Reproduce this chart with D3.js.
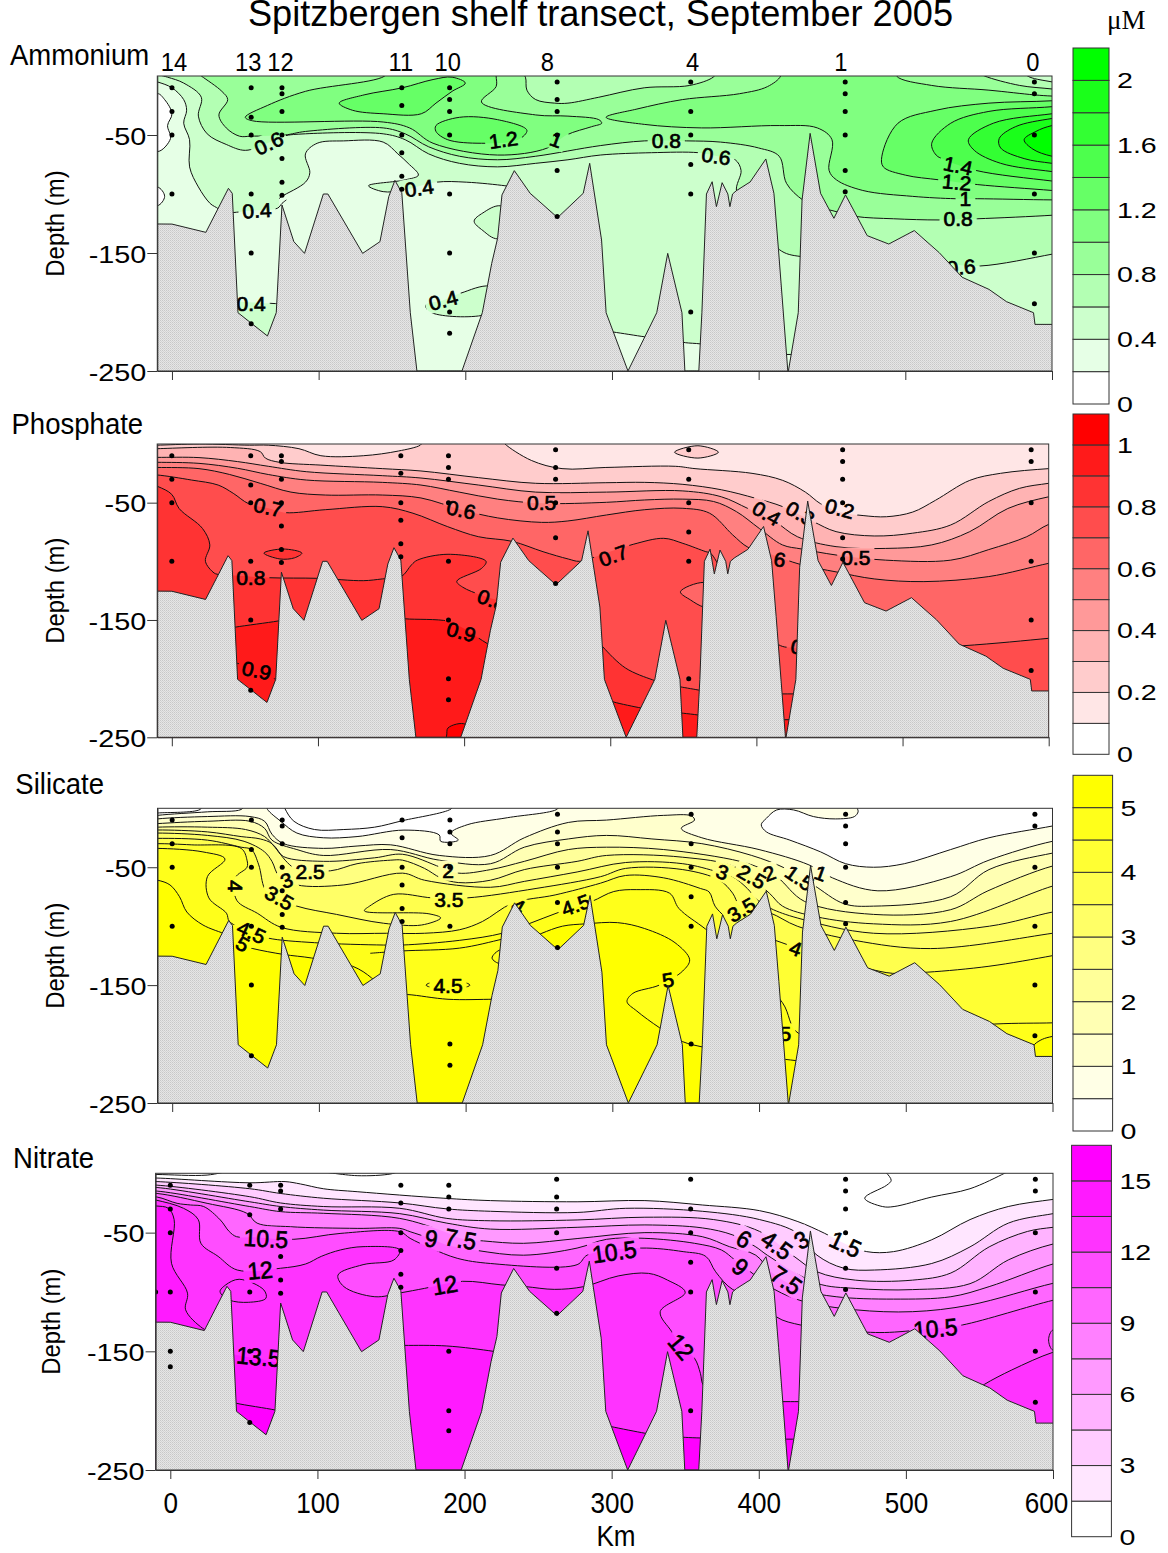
<!DOCTYPE html>
<html>
<head>
<meta charset="utf-8">
<script src="https://cdn.jsdelivr.net/npm/d3@7"></script>
<style>
html, body { margin: 0; padding: 0; background: #fff; }
svg { display: block; }
text { font-family: "Liberation Sans", Arial, sans-serif; fill: #000; }
</style>
</head>
<body>
<div id="container"></div>
<script>
// station names and where they sit along the transect (km)
const stationNames = ["14", "13", "12", "11", "10", "8", "4", "1", "0"];
const stationKm = [0, 54, 75, 156.7, 189.3, 262.6, 353.7, 459, 588];
const stationLabelKm = [1.4, 52, 74, 156, 188, 256, 355, 456, 587];

// sample depths (m) per station, same order as stationNames
const sampleDepths = [
    [10, 30, 50, 100],
    [10, 35, 50, 100, 150, 210],
    [10, 15, 30, 50, 70, 90, 101],
    [10, 25, 50, 65, 85, 96],
    [10, 20, 30, 50, 100, 150, 200, 218],
    [5, 20, 30, 50, 80, 119],
    [5, 30, 50, 75, 100, 200],
    [5, 15, 30, 50, 80, 98],
    [5, 15, 50, 100, 150, 193]
];
const silicateDepths = [
    [10, 30, 50, 100],
    [10, 35, 50, 100, 150, 210],
    [10, 15, 30, 50, 70, 90, 101],
    [10, 25, 50, 65, 85, 96],
    [10, 20, 30, 50, 100, 200, 218],
    [5, 20, 30, 50, 80, 118],
    [5, 30, 50, 75, 100, 200],
    [5, 15, 30, 50, 80, 98],
    [5, 15, 50, 100, 150, 193]
];
const nitrateDepths = [
    [10, 30, 50, 100, 150, 163],
    [10, 35, 100, 150, 210],
    [10, 15, 30, 70, 90, 101],
    [10, 25, 50, 65, 85, 96],
    [10, 20, 30, 150, 200, 217],
    [5, 20, 30, 50, 80, 118],
    [5, 30, 50, 75, 100, 200],
    [5, 15, 30, 50, 80, 98],
    [5, 15, 50, 100, 150, 193]
];

// sea floor along the transect: [km, depth m]
const seaFloor = [[-11, 125.4], [0, 125.5], [23.1, 132.5], [38.5, 95.2], [41.1, 99.4], [45, 200.6], [65.1, 220.3], [71.1, 200.6], [75, 109.3], [83.1, 140.4], [90.4, 150.3], [103.2, 100], [106.3, 100], [130, 150.3], [141.8, 140.4], [147.8, 102.3], [152, 88.4], [156.7, 98.9], [162.5, 200.6], [167, 250], [197.7, 250], [211.6, 200.6], [218, 158.8], [222, 137.6], [225, 100.8], [233.4, 80.2], [244.2, 99.4], [262.9, 120], [280.4, 99.4], [284.8, 74], [292.9, 139], [296, 200.6], [310.9, 250], [330.5, 200.6], [338, 150.3], [347.7, 200.6], [349.7, 250], [359.2, 250], [361.3, 200.6], [364.4, 100], [368.3, 89.6], [371.2, 110.7], [375.1, 90.4], [379, 100], [380.4, 110.7], [382.2, 100], [384.8, 97.2], [394.2, 89.8], [404.9, 70.3], [410.4, 99.4], [413.5, 146.9], [420, 252], [427, 200.6], [429.6, 105], [435.1, 48.6], [442.2, 99.4], [451.3, 120.6], [459.2, 100.8], [474, 135.3], [488.7, 142.4], [506.1, 131], [523.1, 149.7], [538.8, 170.6], [557, 180.8], [568.9, 191.2], [587.4, 200.6], [588.4, 210.5], [601, 210.5]];

// axis ticks
const kmTicks = [0, 100, 200, 300, 400, 500, 600];
const depthTicks = [50, 150, 250];

// colour bar levels and the ones that get a label
const ammoniumLevels = [0, 0.2, 0.4, 0.6, 0.8, 1, 1.2, 1.4, 1.6, 1.8, 2, 2.2];
const ammoniumBarLabels = [0, 0.4, 0.8, 1.2, 1.6, 2];
const phosphateLevels = [0, 0.1, 0.2, 0.3, 0.4, 0.5, 0.6, 0.7, 0.8, 0.9, 1, 1.1];
const phosphateBarLabels = [0, 0.2, 0.4, 0.6, 0.8, 1];
const silicateLevels = [0, 0.5, 1, 1.5, 2, 2.5, 3, 3.5, 4, 4.5, 5, 5.5];
const silicateBarLabels = [0, 1, 2, 3, 4, 5];
const nitrateLevels = [0, 1.5, 3, 4.5, 6, 7.5, 9, 10.5, 12, 13.5, 15, 16.5];
const nitrateBarLabels = [0, 3, 6, 9, 12, 15];

// contours: [band index (null = line only), kind, [[km, depth], ...]]
// kind: d = filled below the line, u = filled above, c = closed shape, l = open line, lc = closed line
const ammoniumContours = [
    [1, "d", [[-20, 2], [-10, 5], [0, 10], [8, 20], [10, 29], [8, 40], [12, 54], [12, 77], [18, 94], [26, 108], [32, 113], [40, 125]]],
    [0, "c", [[-10, 15], [-5, 20], [0, 32], [-3, 42], [-1, 53], [-10, 64], [-25, 40]]],
    [0, "c", [[-10, 94], [-5, 102], [-10, 110], [-25, 102]]],
    [1, "d", [[36, 116], [39, 116], [55, 114], [72, 112], [75, 108], [78, 105]]],
    [2, "d", [[40, 191], [43, 191], [73, 193], [76, 193]]],
    [1, "d", [[73, 104], [75, 102], [91, 90], [94, 82], [91, 66], [99, 57], [117, 55], [144, 56], [154, 66], [161, 74], [168, 84], [159, 88], [134, 93], [144, 98], [157, 97], [180, 90], [201, 90], [227, 93], [232, 94]]],
    [2, "c", [[224, 110], [212, 116], [206, 123], [212, 131], [222, 138], [240, 125]]],
    [2, "c", [[217, 178], [197, 184], [185, 190], [173, 194], [176, 200], [211, 203], [235, 190]]],
    [1, "d", [[295, 216], [301, 217], [322, 221], [328, 222]]],
    [1, "d", [[346, 225], [350, 226], [360, 227], [364, 228]]],
    [1, "d", [[416, 236], [419, 236], [422, 236], [425, 236]]],
    [3, "u", [[-12, -2], [-3, 1], [8, 6], [20, 18], [18, 34], [24, 49], [37, 58], [50, 63], [65, 57], [76, 51], [91, 49], [144, 49], [159, 54], [175, 66], [196, 74], [222, 77], [248, 74], [270, 71], [292, 67], [327, 65], [359, 65], [372, 68], [384, 71], [388, 80], [385, 98], [400, 119], [414, 147], [429, 153], [466, 150], [528, 159], [551, 161], [600, 151], [620, 146]]],
    [4, "u", [[15.6, -4], [20, 0], [34, 13], [38, 20], [32, 33], [37, 44], [46, 51], [54, 51], [77, 50], [91, 47], [144, 44], [159, 49], [175, 60], [196, 68], [222, 71], [248, 68], [292, 59], [322, 55], [351, 55], [374, 56], [400, 61], [414, 68], [419, 91], [430, 105], [440, 111], [450, 114], [466, 119], [492, 121], [523, 122], [549, 121], [600, 118], [620, 116]]],
    [3, "u", [[238, -4], [241, 1], [242, 12], [248, 20], [261, 23], [270, 23], [291, 18], [322, 10], [353, 8], [369, 1], [372, -4]]],
    [5, "c", [[146, -8], [146, -1], [91, 13], [65, 25], [50, 35], [55, 38], [144, 39], [162, 44], [178, 57], [222, 67], [256, 61], [269, 50], [286, 43], [293, 40], [291, 37], [270, 34], [248, 33], [211, 22], [221, 9], [221, 0], [221, -8]]],
    [5, "c", [[415, -8], [415, 0], [406, 9], [387, 15], [348, 20], [317, 28], [296, 35], [322, 41], [361, 44], [414, 42], [440, 44], [450, 54], [448, 80], [453, 88], [471, 97], [505, 102], [534, 104], [549, 104], [600, 105], [630, 105], [630, 18], [600, 17], [588, 16], [557, 12], [518, 8], [494, 0], [494, -8]]],
    [3, "u", [[548, -4], [554, 0], [578, 8], [600, 11], [620, 14]]],
    [2, "u", [[580, -3], [585, 1], [600, 5], [620, 9]]],
    [6, "c", [[114, 23], [131, 16], [157, 10], [178, 3], [191, 1], [200, 6], [191, 13], [180, 23], [170, 32], [144, 32], [123, 29]]],
    [6, "c", [[180, 42], [196, 35], [222, 37], [242, 46], [236, 54], [211, 57], [188, 54], [180, 47]]],
    [6, "c", [[600, 21], [557, 23], [521, 29], [495, 40], [484, 68], [485, 77], [500, 84], [523, 88], [549, 92], [600, 97], [630, 100], [630, 18]]],
    [7, "c", [[600, 26], [557, 30], [531, 40], [518, 57], [521, 67], [527, 71], [548, 80], [600, 89], [630, 93], [630, 22]]],
    [8, "c", [[600, 32], [560, 40], [543, 54], [547, 63], [565, 74], [600, 81], [630, 85], [630, 28]]],
    [9, "c", [[600, 36], [575, 43], [564, 53], [565, 61], [581, 70], [600, 74], [630, 78], [630, 32]]],
    [10, "c", [[600, 42], [589, 47], [581, 54], [587, 62], [600, 68], [630, 72], [630, 38]]]
];
const phosphateContours = [
    [2, "d", [[-14, 1], [-10, 1], [19, 0], [53, 1], [66, 1], [87, 4], [102, 10], [131, 10], [155, 6], [170, 1], [172, -2], [227, -2], [228, 0], [246, 14], [267, 21], [297, 20], [344.5, 19], [358, 21], [397, 25], [418, 31], [433.5, 41], [444, 51], [457, 58], [473, 61], [489, 62], [507, 58], [522.5, 48], [546, 31], [567, 25], [600, 21], [620, 20]]],
    [3, "d", [[-20, 4.5], [-10, 4], [40, 3], [60.5, 6.5], [64, 12], [73.6, 15.6], [102, 18], [144, 21], [170.5, 23], [210, 28.7], [249, 33.5], [297, 33], [323.6, 32.7], [349.7, 34.4], [376, 39], [399.5, 46.3], [418, 53.4], [438.7, 66], [454.5, 74.7], [480.6, 78.4], [507, 76], [533, 69], [559, 49], [580, 37.8], [600, 33.5], [620, 30]]],
    [4, "d", [[-20, 11.4], [-10, 11.4], [18.6, 11.6], [45, 15], [66, 19], [92, 23.6], [144, 27], [170.5, 29], [210, 35], [249, 41], [297.4, 41], [349.7, 40], [376, 45], [394.2, 55], [412.6, 66], [428, 79], [454.5, 87.5], [488.5, 89], [520, 86], [546, 74.7], [572, 55], [600, 45], [620, 41]]],
    [5, "d", [[-20, 15.6], [-10, 15.6], [18.6, 16.5], [45, 20.7], [66, 26], [92, 30.7], [144, 32.7], [170.5, 35], [196.6, 41], [223, 47], [253, 50.6], [297.4, 49.7], [323.6, 47.7], [349.7, 47], [370.7, 49], [386.4, 57.7], [402, 72], [417.8, 86], [431, 89.5], [454.5, 94.6], [488.5, 99], [533, 99], [559, 90], [585, 79], [600, 68.5], [620, 62]]],
    [6, "d", [[-20, 20], [-10, 20], [18.6, 21], [39.6, 26], [60.5, 33.5], [81.5, 41], [105, 43.5], [144, 43.5], [170.5, 46], [198, 56], [223, 63], [253, 66.8], [271, 65.6], [297.4, 60.5], [323.6, 56], [349.7, 54.8], [368, 59], [383.8, 77.5], [394.2, 88], [407.3, 93], [431, 103], [454.5, 109], [480.6, 115], [514.6, 117.3], [559, 113], [600, 101.7], [620, 97]]],
    [7, "d", [[-20, 26], [-10, 26.4], [13.4, 30.7], [31.7, 35], [42, 42], [52.7, 51], [66, 54.8], [77.5, 58.5], [105, 56], [144, 53.4], [165, 59], [188.8, 70.5], [209.7, 79], [233, 83], [254, 91.8], [271.2, 98], [279, 100], [293.4, 94.6], [315.7, 85.5], [336.6, 80.4], [349.7, 84.7], [365.4, 91.8], [368.6, 93], [389, 137], [415, 171], [427, 174], [454.5, 177], [541, 172], [600, 165.6], [620, 163]]],
    [2, "c", [[344, 7], [360, 1.5], [374, 7], [360, 12]]],
    [6, "c", [[348, 126], [364, 118], [375, 125], [375, 140], [364, 139], [355, 133]]],
    [8, "d", [[-25, 30], [-10, 36], [0, 43], [5, 55], [21, 72], [26, 86], [23, 100], [29, 110], [33, 112], [40, 125]]],
    [8, "d", [[38, 112], [42, 112], [67, 114], [100, 114.5], [131, 116.5], [144, 115], [157, 113], [164, 103], [168, 99], [189, 94], [215, 100], [212, 106], [195, 117], [199, 122], [212, 129], [225, 134], [232, 137]]],
    [8, "c", [[63, 93], [76, 89.5], [89, 93], [84, 97], [74, 98]]],
    [8, "d", [[290, 165], [295, 173], [310.5, 191], [329, 201], [335, 203]]],
    [8, "d", [[344, 206], [348, 207], [361.5, 210], [365, 211]]],
    [8, "d", [[414, 213], [418, 213], [425, 213], [429, 213]]],
    [9, "d", [[40, 157], [44, 156], [72, 151], [76, 150]]],
    [9, "d", [[298, 218], [302.6, 220], [321, 225], [326, 226]]],
    [9, "d", [[346, 229], [350, 229.5], [360, 231], [364, 232]]],
    [9, "d", [[416, 235], [419, 235], [422.5, 235], [426, 235]]],
    [9, "d", [[155, 148], [160, 149], [189, 151], [198, 156], [217, 171], [225, 176]]],
    [null, "l", [[41, 186], [45, 187], [50, 189], [70, 200], [74, 202]]],
    [10, "c", [[188, 249], [189, 242], [201, 239], [205, 260], [185, 260]]]
];
const silicateContours = [
    [null, "l", [[-20, 5], [-10, 4], [19, 1], [21, -3]]],
    [null, "l", [[76, -3], [77, 0.6], [83, 11], [97, 18], [117, 18], [138, 16], [157, 10.5], [190, 0.6], [192, -3]]],
    [0, "u", [[-20, 8], [-10, 6], [24, 3], [47, 1], [50, -3]]],
    [0, "u", [[64, -3], [65, 1], [74, 11], [85, 21], [103, 25], [126, 24], [158, 18.5], [182, 22.6], [183, 28], [195, 27], [190, 21], [201, 14], [228.4, 8], [262.6, 0.6], [264, -3]]],
    [0, "u", [[466.7, -2], [467, 0], [467.5, 3], [465, 7], [452, 9], [437, 7], [423.6, 1.4], [412, 1.4], [405, 8.5], [401.5, 14], [405, 20], [421, 27], [442, 37], [459, 47], [478, 50], [499, 47], [530.6, 35], [556.7, 25], [600, 15], [620, 10]]],
    [2, "d", [[-20, 11], [-10, 9], [24, 7], [53, 7], [63, 11], [68, 22], [76, 30], [103, 34], [126, 32], [149, 31], [182, 40], [217, 40], [240, 25], [270, 12], [296, 10], [335, 6], [354, 6.5], [356, 10], [347, 17], [361, 25], [400, 35], [434, 48], [450, 59], [481, 70], [530.6, 58], [556.7, 44], [600, 28], [620, 25]]],
    [3, "d", [[-20, 14], [-10, 13], [24, 11], [53, 11], [63, 17], [68, 27], [85, 35], [103, 40], [149, 35], [182, 44], [217, 47], [240, 33], [270, 26], [296, 23], [327, 26], [361, 30], [395, 40], [418, 51], [437, 65], [458, 81], [478, 83], [530.6, 75], [556.7, 52], [600, 38], [620, 34]]],
    [4, "d", [[-20, 17], [-10, 16], [24, 16], [50, 18], [63, 24], [70, 33], [76, 41], [103, 45], [138, 42], [157, 39], [183, 50], [195, 55], [217, 52], [240, 45], [270, 35], [296, 33], [335, 35], [387, 45], [403, 52], [413, 59], [431, 79], [478, 90], [530.6, 86], [556, 70], [600, 49], [620, 45]]],
    [5, "d", [[-20, 19], [-10, 18.4], [24, 20], [47, 24], [60, 26], [68, 30], [77, 44], [84, 51], [108, 53], [126, 47], [149, 44], [157, 44], [172, 51], [183, 59], [195, 63], [217, 61], [240, 52], [276, 45], [296, 40], [348, 41.5], [384, 50], [407, 72], [416, 83], [439, 92], [478, 98], [530.6, 96], [600, 66], [620, 60]]],
    [6, "d", [[-20, 21.5], [-10, 21], [24, 23], [49, 28], [63, 37], [68, 45], [73, 58], [85, 65], [117, 65], [157, 55], [172, 61], [217, 67], [240, 62], [276, 54], [309, 46], [348, 47], [372, 54], [382, 58], [392, 68], [399, 78], [408, 85], [426, 93], [478, 106], [557, 100], [600, 88], [620, 84]]],
    [7, "d", [[-20, 26], [-10, 25.5], [24, 27], [47, 33], [54, 35], [59, 48], [63, 68], [68, 74], [85, 83], [112, 90], [144, 97.5], [170, 99], [183, 93], [175, 89.5], [131, 87], [134.5, 83], [151, 73], [177.5, 76], [201, 76], [248, 68], [292, 58], [309, 51], [348, 52], [373, 61], [382, 72], [386.6, 82], [397, 86], [408, 89], [426, 100], [465, 112], [517, 119], [600, 106], [620, 102]]],
    [8, "d", [[-20, 30.5], [-10, 30], [13, 31], [47, 34], [51, 44], [51, 50], [43, 59], [44, 78], [58, 89], [74.4, 101], [112, 106], [146, 106], [172, 106], [196, 103], [211.5, 96], [232, 80.5], [261, 73.5], [292, 63.5], [309, 57], [335, 59], [360, 68], [366, 71], [370, 83], [376.7, 92], [383, 99], [397.5, 106], [411, 112], [420, 116], [430, 121], [452, 130], [474, 136], [491, 140], [515, 139], [556.7, 134], [600, 125], [620, 120]]],
    [9, "d", [[-20, 34.5], [-10, 34], [21, 37], [36, 43], [24, 58], [25, 76], [37, 89], [39, 96], [54, 105], [65, 110], [97, 114], [144, 116], [157, 116], [196, 112], [225, 106], [243, 98], [264, 88], [286, 79], [301, 70.6], [316.7, 69], [339, 72], [345.4, 85], [363.6, 102.5], [387, 126], [416, 165], [427, 191], [478, 191], [560.6, 183], [600, 182], [620, 181]]],
    [null, "l", [[135, 123], [157, 121], [196, 118.6], [225, 111], [235, 108]]],
    [10, "d", [[-20, 60], [-10, 61], [-1.5, 65], [5, 75], [10, 88], [21, 99], [36.5, 107], [39, 109], [44, 115], [55, 119], [76, 124], [95, 127], [123, 134], [136, 144], [144, 155]]],
    [10, "d", [[150, 158], [160.6, 158], [188, 162], [219, 162], [230, 162]]],
    [10, "d", [[245, 110], [252, 106], [266, 100], [282, 98], [303.6, 97], [322, 102], [342.7, 114], [352.7, 128.5], [348, 138], [332, 150], [314, 157], [310, 164], [316.7, 172], [332, 186], [348, 198], [361.5, 202.5], [370, 205]]],
    [10, "d", [[587, 202], [588, 200], [593, 196], [600, 193.5], [620, 190]]],
    [10, "d", [[414, 213], [418, 213], [425, 214], [429, 214]]],
    [null, "lc", [[173, 150], [188, 145], [203, 150], [188, 154]]],
    [null, "lc", [[224, 120], [218, 127], [224, 132], [235, 126]]]
];
const nitrateContours = [
    [null, "l", [[-20, 1], [-9, 1], [25, 1.5], [40, -2]]],
    [null, "l", [[100, -2], [127, 2], [150, 0.5], [156, -2]]],
    [null, "l", [[485, -2], [487, 0], [490, 6], [487, 10], [472, 21], [484, 28], [492, 28], [517.6, 20], [543.6, 13], [567, 0], [570, -2]]],
    [1, "d", [[-20, 4], [-9, 4], [54, 8], [78, 7], [88.5, 9], [104, 13], [127, 15.5], [186, 21], [217.6, 23], [276.5, 24], [322.6, 23], [361.6, 26.7], [400.6, 31.5], [426.6, 40.7], [444.8, 50.6], [459, 59.6], [473.4, 66], [491.6, 66], [517.6, 56], [543.6, 39], [569.6, 28], [600, 22], [620, 19]]],
    [2, "d", [[-20, 7], [-9, 7], [54, 13], [75, 17], [104, 21], [156, 25], [188, 30], [217.6, 32], [276.5, 33], [309.6, 29.5], [361.6, 32], [400.6, 39], [426.6, 50.6], [439.6, 69], [457.8, 80], [478.6, 81.5], [517.6, 76], [543.6, 62], [569.6, 42], [600, 34], [620, 30]]],
    [3, "d", [[-20, 10], [-9, 10], [54, 19.7], [75, 25], [104, 28], [156, 29.5], [188, 38], [217.6, 40], [276.5, 39.3], [322.6, 37], [369.4, 39], [400.6, 49], [424, 70], [439.6, 83], [465.6, 90], [504.6, 90], [530.6, 84], [556.6, 62], [582.6, 49], [600, 45.5], [620, 43]]],
    [4, "d", [[-20, 12], [-9, 12], [54, 24], [75, 28], [104, 31], [156, 34], [188, 42], [217.6, 47], [276.5, 45.5], [322.6, 43.5], [361.6, 46], [382.4, 52], [398, 62], [405.8, 69], [439.6, 92.7], [465.6, 97], [504.6, 98], [543.6, 93], [569.6, 73], [600, 59.6], [620, 56]]],
    [5, "d", [[-20, 15], [-9, 15], [54, 28], [75, 32.3], [104, 33.7], [156, 38], [186, 49], [198, 55], [213, 57], [240, 59], [276.5, 55], [322.6, 50], [361.6, 53.4], [380, 61.8], [398, 69], [408.4, 83], [429, 98], [452.6, 104], [491.6, 106], [530.6, 104], [556.6, 95.5], [600, 76.4], [620, 71]]],
    [6, "d", [[-20, 17], [-9, 17], [25, 25.3], [52, 33.7], [59, 42], [81.6, 45], [127, 46.4], [156, 46.4], [163, 49.2], [177, 55], [187, 60], [208.5, 65], [240, 69], [276.5, 63], [296.6, 55.6], [322.6, 54.8], [356.4, 59], [374.6, 64.6], [383.7, 73], [395.4, 84], [411, 98], [430.5, 108], [465.6, 115], [504.6, 116.6], [543.6, 111], [600, 92.7], [620, 88]]],
    [7, "d", [[-20, 20], [-9, 20], [4.6, 25.3], [13.7, 26.7], [22.7, 28], [34, 39.3], [40, 49], [45, 53.4], [59, 54], [84, 55.6], [116, 50.6], [156, 49.2], [163, 54.8], [177, 63], [195, 71.6], [217.6, 76], [276.5, 77], [283.6, 68.8], [320, 63], [348.6, 66], [364, 70], [370.7, 83], [382.4, 98], [400.6, 104], [412, 121], [429, 128], [452.6, 132], [476, 134], [489, 134], [520, 130.6], [538.4, 127.8], [600, 107], [620, 102]]],
    [8, "d", [[-20, 20.5], [-10, 22.5], [9, 29.5], [19, 39], [20.8, 59], [32.5, 70], [45.5, 81.5], [75, 80], [92, 76.4], [102.6, 70], [115.6, 64.6], [131, 61.8], [156, 64.6], [152, 73], [131, 77], [114, 85.7], [118, 95.5], [139, 104], [157, 100.6], [172.7, 97], [198.7, 91], [224.7, 94], [241.6, 95.5], [261, 97.8], [281, 95.5], [304.4, 86.5], [325, 84.3], [338, 90], [350, 100.3], [333, 116.6], [340.8, 133.4], [347.3, 146], [356.4, 156], [360.3, 168.5], [362, 178], [370, 190]]],
    [8, "d", [[545, 185], [553.4, 177.8], [572, 165.7], [600, 150.8], [620, 145]]],
    [9, "d", [[-20, 27], [-10, 27.5], [-1.3, 29.5], [2.6, 39], [0.8, 75.8], [11.7, 101], [10.4, 115], [22, 130.6], [30, 135]]],
    [9, "d", [[40, 152], [45, 153], [73.2, 159.5], [78, 161]]],
    [10, "d", [[40, 192], [45, 193.8], [71, 199.4], [76, 201]]],
    [9, "d", [[150, 145], [159, 145], [188, 145.5], [219.5, 150], [228, 152]]],
    [9, "d", [[412, 192.4], [416, 192.4], [427, 192.4], [431, 192.4]]],
    [10, "d", [[415, 224], [418.8, 224], [422.7, 224], [426, 224]]],
    [10, "d", [[295, 212], [300, 213.5], [322.6, 219], [328, 220]]],
    [10, "d", [[345, 222], [350, 222.5], [360.3, 223], [365, 223]]],
    [null, "lc", [[33.8, 99.7], [37.7, 94], [46.8, 89.3], [63.6, 98.3], [65, 105.3], [53, 108.7], [40, 106.7]]],
    [null, "lc", [[600, 132], [597, 140.4], [600, 149], [612, 140]]]
];

// contour labels: [text, km, depth, angle]
const ammoniumLabels = [["0.6", 66, 57, -25], ["0.4", 58, 114, -3], ["0.4", 168.5, 95, -8], ["1.2", 226, 54, -8], ["1", 262, 54, 20], ["0.8", 337, 55, 0], ["0.6", 371, 68, 8], ["1.4", 536, 76, 12], ["1.2", 535, 90, 5], ["1", 541, 104, 0], ["0.8", 536, 121, 0], ["0.6", 538, 162, -5], ["0.4", 54, 193, 0], ["0.4", 185, 190, -15]];
const phosphateLabels = [["0.7", 66, 54, 12], ["0.6", 198, 56, 12], ["0.5", 253, 50.5, 0], ["0.8", 54, 114, 0], ["0.8", 219, 133, 20], ["0.9", 198, 160, 15], ["0.9", 58, 193, 12], ["0.7", 302, 95, -20], ["0.4", 407, 59, 30], ["0.3", 430, 59, 30], ["0.2", 457, 55, 15], ["0.6", 410, 97, 10], ["0.5", 468, 97, 0], ["0.7", 433.5, 174, 10]];
const silicateLabels = [["2.5", 94, 54, 0], ["3", 78, 61, -20], ["4", 43, 66, 90], ["3.5", 73, 76, 30], ["4.5", 54, 105, 25], ["5", 48, 115, 30], ["2", 188, 53, 0], ["3.5", 188.5, 78, 0], ["4", 236, 83, 30], ["4.5", 275, 82, -20], ["4.5", 188, 150.5, 0], ["5", 338, 145.5, -10], ["3", 375, 54, 20], ["2.5", 395, 58, 30], ["2", 407, 55, -20], ["1.5", 427.5, 59, 35], ["1", 442, 55, 20], ["3.5", 388, 86, -30], ["4", 425, 119, 20], ["4.5", 412, 191, 0]];
const nitrateLabels = [["10.5", 65, 54.8, 3], ["12", 61, 81.5, -5], ["13.5", 60, 154.5, 5], ["9", 177.4, 54.8, 10], ["7.5", 197.4, 55.3, 10], ["12", 186.5, 94, -10], ["10.5", 301.8, 66, -8], ["12", 347.3, 146, 50], ["6", 390, 55.3, 30], ["4.5", 412.3, 60.4, 35], ["3", 429, 56, -30], ["9", 387.6, 78.7, 40], ["7.5", 418.8, 90, 35], ["1.5", 459, 59.6, 25], ["10.5", 520, 130.6, -5]];

const panels = [
    { name: "Ammonium", nameX: 10, nameY: 65, hue: "#00ff00", left: 157.3, right: 1052, top: 76, bottom: 371,
      contours: ammoniumContours, labels: ammoniumLabels, labelSize: 20, labelX: 1.05, depths: sampleDepths,
      levels: ammoniumLevels, barLabels: ammoniumBarLabels, barLeft: 1073, barRight: 1109, barTop: 48, barBottom: 404, depthX: 63.5 },
    { name: "Phosphate", nameX: 11.5, nameY: 434, hue: "#ff0000", left: 157.2, right: 1048.7, top: 444, bottom: 737.3,
      contours: phosphateContours, labels: phosphateLabels, labelSize: 20, labelX: 1.05, depths: sampleDepths,
      levels: phosphateLevels, barLabels: phosphateBarLabels, barLeft: 1073, barRight: 1109, barTop: 414, barBottom: 754.3, depthX: 63.5 },
    { name: "Silicate", nameX: 15.3, nameY: 794, hue: "#ffff00", left: 157.5, right: 1052.5, top: 808.3, bottom: 1103,
      contours: silicateContours, labels: silicateLabels, labelSize: 20, labelX: 1.05, depths: silicateDepths,
      levels: silicateLevels, barLabels: silicateBarLabels, barLeft: 1073, barRight: 1112.6, barTop: 775.3, barBottom: 1131, depthX: 63.5 },
    { name: "Nitrate", nameX: 13, nameY: 1168, hue: "#ff00ff", left: 155.6, right: 1053, top: 1173.3, bottom: 1470,
      contours: nitrateContours, labels: nitrateLabels, labelSize: 24, labelX: 0.95, depths: nitrateDepths,
      levels: nitrateLevels, barLabels: nitrateBarLabels, barLeft: 1071.6, barRight: 1111.4, barTop: 1145.3, barBottom: 1536.7, depthX: 60 }
];

const svg = d3.select("#container").append("svg")
    .attr("width", 1168)
    .attr("height", 1553);

const defs = svg.append("defs");

// stippled grey for the sea floor
const stipple = defs.append("pattern")
    .attr("id", "floor")
    .attr("patternUnits", "userSpaceOnUse")
    .attr("width", 2)
    .attr("height", 2);
stipple.append("rect").attr("width", 2).attr("height", 2).attr("fill", "#e6e6e6");
stipple.append("rect").attr("width", 1).attr("height", 1).attr("fill", "#c8c8c8");
stipple.append("rect").attr("x", 1).attr("y", 1).attr("width", 1).attr("height", 1).attr("fill", "#d4d4d4");

svg.append("text")
    .attr("x", 248)
    .attr("y", 26)
    .attr("font-size", 36)
    .attr("textLength", 705)
    .attr("lengthAdjust", "spacingAndGlyphs")
    .text("Spitzbergen shelf transect, September 2005");

svg.append("text")
    .attr("x", 1107)
    .attr("y", 29)
    .attr("font-size", 27)
    .style("font-family", "'Liberation Serif', serif")
    .text("μM");

panels.forEach((p, idx) => {
    const x = d3.scaleLinear().domain([-10, 600]).range([p.left, p.right]);
    const y = d3.scaleLinear().domain([0, 250]).range([p.top, p.bottom]);
    const bandColor = d3.scaleLinear().domain([0, 10]).range(["#ffffff", p.hue]);

    const open = d3.line().x(d => x(d[0])).y(d => y(d[1])).curve(d3.curveCatmullRom.alpha(0.5));
    const closed = d3.line().x(d => x(d[0])).y(d => y(d[1])).curve(d3.curveCatmullRomClosed.alpha(0.5));

    // path for the filled part of one contour
    function fillPath(kind, pts) {
        if (kind === "c") return closed(pts);
        const edge = kind === "d" ? y(330) : y(-40);
        return open(pts) + `L${x(pts[pts.length - 1][0])},${edge}L${x(pts[0][0])},${edge}Z`;
    }

    defs.append("clipPath")
        .attr("id", `plot${idx}`)
        .append("rect")
        .attr("x", p.left)
        .attr("y", p.top)
        .attr("width", p.right - p.left)
        .attr("height", p.bottom - p.top);

    const plot = svg.append("g").attr("clip-path", `url(#plot${idx})`);

    // lowest layer: the band that covers most of the section
    const baseBand = { Ammonium: 2, Phosphate: 1, Silicate: 1, Nitrate: 0 }[p.name];
    plot.append("rect")
        .attr("x", p.left)
        .attr("y", p.top)
        .attr("width", p.right - p.left)
        .attr("height", p.bottom - p.top)
        .attr("fill", bandColor(baseBand));

    plot.append("g")
        .selectAll("path")
        .data(p.contours.filter(c => c[0] !== null))
        .join("path")
        .attr("d", c => fillPath(c[1], c[2]))
        .attr("fill", c => bandColor(c[0]));

    // labels go in first so the gaps in the lines can be measured from them
    const maskId = `gaps${idx}`;
    const mask = defs.append("mask")
        .attr("id", maskId)
        .attr("maskUnits", "userSpaceOnUse")
        .attr("x", 0)
        .attr("y", 0)
        .attr("width", 1168)
        .attr("height", 1553);
    mask.append("rect").attr("width", 1168).attr("height", 1553).attr("fill", "#fff");

    const lines = plot.append("g").attr("mask", `url(#${maskId})`);
    lines.selectAll("path")
        .data(p.contours)
        .join("path")
        .attr("d", c => (c[1] === "c" || c[1] === "lc") ? closed(c[2]) : open(c[2]))
        .attr("fill", "none")
        .attr("stroke", "#111")
        .attr("stroke-width", 1);

    const labels = plot.append("g");
    p.labels.forEach(l => {
        const tr = `translate(${x(l[1])},${y(l[2])}) rotate(${l[3]})`;
        const t = labels.append("text")
            .attr("transform", `${tr} scale(${p.labelX},1)`)
            .attr("text-anchor", "middle")
            .attr("dy", "0.36em")
            .attr("font-size", p.labelSize)
            .attr("stroke", "#000")
            .attr("stroke-width", 0.7)
            .text(l[0]);
        const w = t.node().getComputedTextLength() * p.labelX + 8;
        mask.append("rect")
            .attr("transform", tr)
            .attr("x", -w / 2)
            .attr("y", -p.labelSize * 0.5)
            .attr("width", w)
            .attr("height", p.labelSize)
            .attr("fill", "#000");
    });

    // sea floor on top of fills and labels
    plot.append("path")
        .datum(seaFloor)
        .attr("d", d3.area().x(d => x(d[0])).y0(y(300)).y1(d => y(d[1])))
        .attr("fill", "url(#floor)");
    plot.append("path")
        .datum(seaFloor)
        .attr("d", d3.line().x(d => x(d[0])).y(d => y(d[1])))
        .attr("fill", "none")
        .attr("stroke", "#222")
        .attr("stroke-width", 1);

    // sample dots
    const dots = stationKm.flatMap((km, i) => p.depths[i].map(m => [km, m]));
    if (p.name === "Nitrate") dots.push([-10, 100]);
    plot.append("g")
        .selectAll("circle")
        .data(dots)
        .join("circle")
        .attr("cx", d => x(d[0]))
        .attr("cy", d => y(d[1]))
        .attr("r", 2.5)
        .attr("fill", "#000");

    // frame and axes
    svg.append("rect")
        .attr("x", p.left)
        .attr("y", p.top)
        .attr("width", p.right - p.left)
        .attr("height", p.bottom - p.top)
        .attr("fill", "none")
        .attr("stroke", "#333")
        .attr("stroke-width", 1);

    const xAxis = svg.append("g")
        .attr("transform", `translate(0,${p.bottom})`)
        .call(d3.axisBottom(x).tickValues(kmTicks).tickSize(9).tickSizeOuter(0)
            .tickFormat(idx === 3 ? d3.format("d") : ""));
    xAxis.select(".domain").attr("stroke", "#333");
    xAxis.selectAll(".tick line").attr("stroke", "#333");
    xAxis.selectAll("text")
        .attr("font-family", null)
        .attr("font-size", 29)
        .attr("y", 22)
        .attr("transform", d => `translate(${d === 600 ? -7 : 0},0) scale(0.9,1)`);

    const yAxis = svg.append("g")
        .attr("transform", `translate(${p.left},0)`)
        .call(d3.axisLeft(y).tickValues(depthTicks).tickSize(10).tickSizeOuter(0)
            .tickFormat(d => `-${d}`));
    yAxis.select(".domain").attr("stroke", "#333");
    yAxis.selectAll(".tick line").attr("stroke", "#333");
    yAxis.selectAll("text")
        .attr("font-family", null)
        .attr("font-size", 24)
        .attr("x", -11 / 1.2)
        .attr("dy", "0.38em")
        .attr("transform", "scale(1.2,1)");

    svg.append("text")
        .attr("transform", `translate(${p.depthX},${(p.top + p.bottom) / 2}) rotate(-90) scale(0.92,1)`)
        .attr("text-anchor", "middle")
        .attr("font-size", 26)
        .text("Depth (m)");

    svg.append("text")
        .attr("transform", `translate(${p.nameX},${p.nameY}) scale(0.95,1)`)
        .attr("font-size", 29)
        .text(p.name);

    // colour bar
    const barY = d3.scaleLinear()
        .domain([0, p.levels[p.levels.length - 1]])
        .range([p.barBottom, p.barTop]);
    svg.append("g")
        .selectAll("rect")
        .data(p.levels.slice(0, -1))
        .join("rect")
        .attr("x", p.barLeft)
        .attr("y", (d, i) => barY(p.levels[i + 1]))
        .attr("width", p.barRight - p.barLeft)
        .attr("height", (d, i) => barY(d) - barY(p.levels[i + 1]))
        .attr("fill", (d, i) => bandColor(i))
        .attr("stroke", "#333")
        .attr("stroke-width", 1);
    svg.append("g")
        .selectAll("text")
        .data(p.barLabels)
        .join("text")
        .attr("transform", d => `translate(${p.barRight + 8},${barY(d)}) scale(1.3,1)`)
        .attr("dy", "0.36em")
        .attr("font-size", 22)
        .text(d => d);
});

// station numbers above the first panel
const stationX = d3.scaleLinear().domain([-10, 600]).range([panels[0].left, panels[0].right]);
svg.append("g")
    .selectAll("text")
    .data(stationNames)
    .join("text")
    .attr("transform", (d, i) => `translate(${stationX(stationLabelKm[i])},71) scale(0.95,1)`)
    .attr("text-anchor", "middle")
    .attr("font-size", 25)
    .text(d => d);

svg.append("text")
    .attr("transform", "translate(616,1546) scale(0.9,1)")
    .attr("text-anchor", "middle")
    .attr("font-size", 29)
    .text("Km");
</script>
</body>
</html>
